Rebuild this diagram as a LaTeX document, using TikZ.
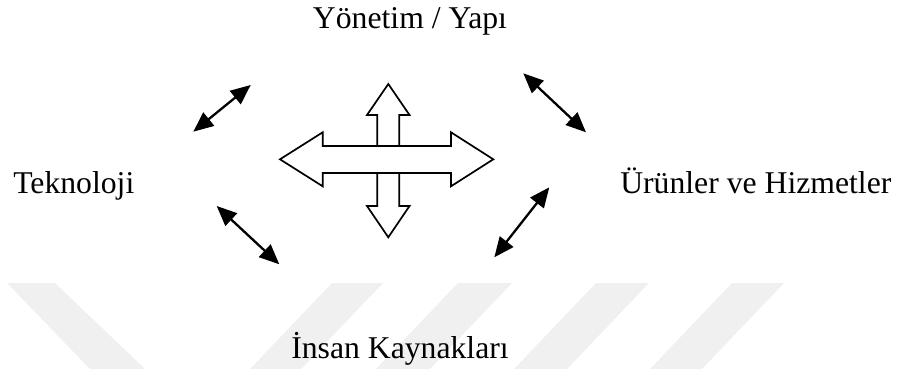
\documentclass[tikz,border=0pt]{standalone}
\usepackage{fontspec}
\setmainfont{Liberation Serif}
\usetikzlibrary{arrows.meta}
\begin{document}
\begin{tikzpicture}[x=1pt,y=-1pt,
  lbl/.style={anchor=base,inner sep=0pt,font=\fontsize{31.7}{38}\selectfont},
  dbl/.style={line width=2.3pt,{Triangle[length=20pt,width=17pt]}-{Triangle[length=20pt,width=17pt]}},
  bigarrow/.style={draw=black,fill=white,line width=1.7pt,line join=miter},
  wm/.style={fill=black!6,draw=none}]
\useasboundingbox (0,0) rectangle (897,369);
% watermark
\fill[wm] (7,283) -- (55,283) -- (145,369) -- (90,369) -- cycle;
\fill[wm] (332,283) -- (383,283) -- (301,369) -- (250,369) -- cycle;
\fill[wm] (458,283) -- (512,283) -- (430,369) -- (376,369) -- cycle;
\fill[wm] (596,283) -- (649,283) -- (567,369) -- (514,369) -- cycle;
\fill[wm] (732,283) -- (784,283) -- (702,369) -- (650,369) -- cycle;
% labels
\node[lbl] (yon) at (410,28.3) {Yönetim / Yapı};
\node[lbl] (tek) at (73.8,193.3) {Teknoloji};
\node[lbl] (urun) at (755.8,193.3) {Ürünler ve Hizmetler};
\node[lbl] (insan) at (400,358.3) {İnsan Kaynakları};
% central cross
\draw[bigarrow] (388.3,84) -- (409.5,115) -- (399.3,115) -- (399.3,206) -- (409.5,206)
  -- (388.3,237.3) -- (367,206) -- (377.3,206) -- (377.3,115) -- (367,115) -- cycle;
\draw[bigarrow] (280,159.3) -- (322.7,132.3) -- (322.7,146) -- (451,146) -- (451,132.3)
  -- (493.3,159.3) -- (451,186.3) -- (451,173) -- (322.7,173) -- (322.7,186.3) -- cycle;
% small double arrows
\coordinate (tla) at (193.3,131.7);
\coordinate (tlb) at (250.7,85);
\coordinate (bla) at (216.7,206);
\coordinate (blb) at (279.3,264.3);
\coordinate (tra) at (523.3,73.3);
\coordinate (trb) at (586,132.3);
\coordinate (bra) at (549.3,187.3);
\coordinate (brb) at (494.3,257.3);
\draw[dbl] (tla) -- (tlb);
\draw[dbl] (bla) -- (blb);
\draw[dbl] (tra) -- (trb);
\draw[dbl] (bra) -- (brb);
\end{tikzpicture}
\end{document}
